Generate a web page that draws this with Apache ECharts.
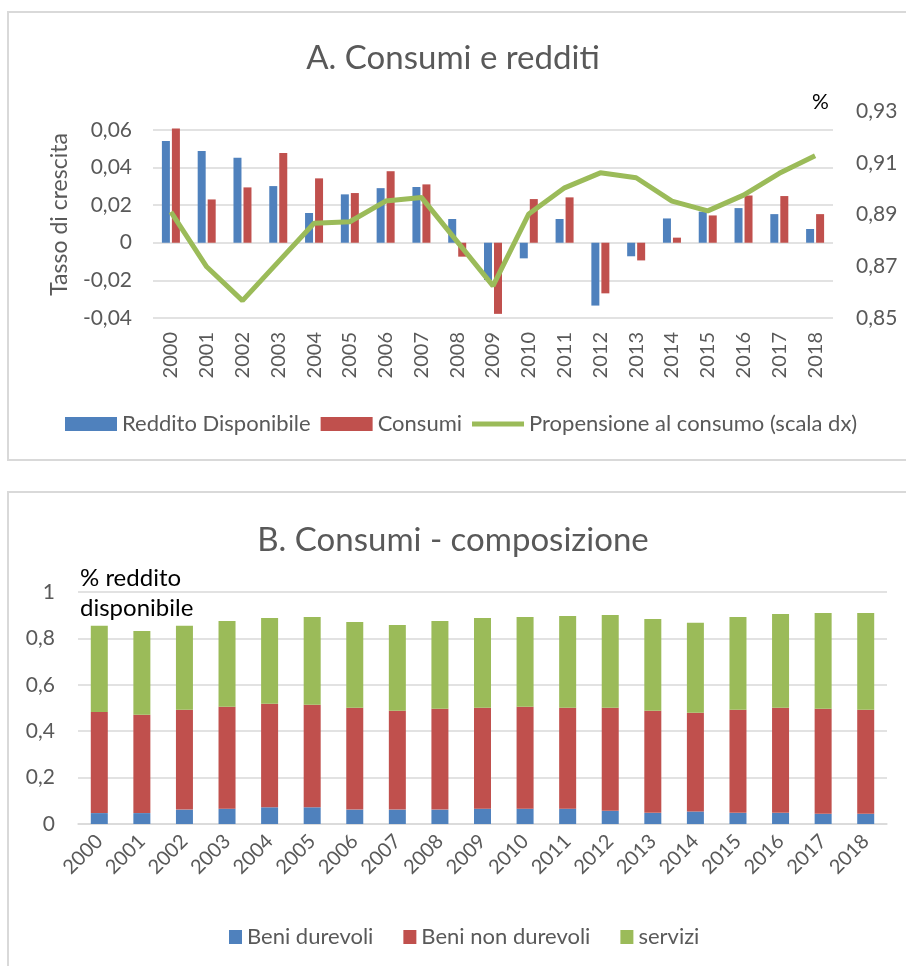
<!DOCTYPE html>
<html>
<head>
    <meta charset="utf-8">
    <title>Consumi e redditi</title>
    <script src="https://cdn.jsdelivr.net/npm/echarts@6/dist/echarts.min.js"></script>
    <style>
        html, body { margin: 0; padding: 0; background: #fff; }
    </style>
</head>
<body>

    <div id="main" style="width: 906px;height:966px;"></div>

    <script type="text/javascript">

        // dati
        var anni = ['2000', '2001', '2002', '2003', '2004', '2005', '2006', '2007', '2008', '2009',
                    '2010', '2011', '2012', '2013', '2014', '2015', '2016', '2017', '2018'];

        // A. Consumi e redditi
        var redditoDisponibile = [0.054, 0.0488, 0.0451, 0.0301, 0.0158, 0.0257, 0.029, 0.0296, 0.0126, -0.0198,
                                  -0.0083, 0.0126, -0.0334, -0.0072, 0.0129, 0.0165, 0.0184, 0.0152, 0.0073];
        var consumi = [0.0607, 0.023, 0.0294, 0.0477, 0.0342, 0.0264, 0.038, 0.031, -0.0074, -0.0378,
                       0.0232, 0.0241, -0.0269, -0.0094, 0.0027, 0.0145, 0.0251, 0.0248, 0.0152];
        var propensione = [0.891, 0.8698, 0.8567, 0.8717, 0.8866, 0.8872, 0.8952, 0.8966, 0.8795, 0.8624,
                           0.8902, 0.9003, 0.9061, 0.9042, 0.8952, 0.8914, 0.8975, 0.9059, 0.9127];

        // B. Consumi - composizione
        var beniDurevoli = [0.047, 0.047, 0.062, 0.066, 0.072, 0.072, 0.062, 0.062, 0.062, 0.066,
                            0.066, 0.066, 0.057, 0.048, 0.054, 0.048, 0.048, 0.044, 0.044];
        var beniNonDurevoli = [0.436, 0.424, 0.430, 0.439, 0.446, 0.442, 0.439, 0.426, 0.435, 0.435,
                               0.439, 0.435, 0.444, 0.440, 0.425, 0.444, 0.453, 0.453, 0.448];
        var servizi = [0.371, 0.361, 0.362, 0.370, 0.370, 0.378, 0.370, 0.370, 0.378, 0.387,
                       0.387, 0.396, 0.400, 0.396, 0.388, 0.400, 0.404, 0.413, 0.418];

        var BLU = '#4f81bd', ROSSO = '#c0504d', VERDE = '#9bbb59';
        var GRIGIO = '#595959', GRIGLIA = '#d9d9d9';
        var FONT = 'Lato';

        var virgola = function (v, dec) {
            var p = Math.pow(10, dec);
            return String(Math.round(v * p) / p).replace('.', ',');
        };

        var myChart = echarts.init(document.getElementById('main'));

        var option = {
            animation: false,
            textStyle: { fontFamily: FONT },
            title: [
                {
                    text: 'A. Consumi e redditi',
                    left: 'center',
                    top: 37,
                    textStyle: { fontFamily: FONT, fontSize: 33, fontWeight: 'normal', color: GRIGIO }
                },
                {
                    text: 'B. Consumi - composizione',
                    left: 'center',
                    top: 519,
                    textStyle: { fontFamily: FONT, fontSize: 33, fontWeight: 'normal', color: GRIGIO }
                }
            ],
            legend: [
                {
                    left: 65,
                    top: 413,
                    padding: 0,
                    itemWidth: 52,
                    itemHeight: 14,
                    itemGap: 10,
                    textStyle: { fontFamily: FONT, fontSize: 22, color: GRIGIO },
                    data: [
                        { name: 'Reddito Disponibile', icon: 'rect' },
                        { name: 'Consumi', icon: 'rect' },
                        { name: 'Propensione al consumo (scala dx)', icon: 'path://M0 0H52V5H0Z' }
                    ]
                },
                {
                    left: 229,
                    top: 926,
                    padding: 0,
                    itemWidth: 13,
                    itemHeight: 14,
                    itemGap: 30,
                    textStyle: { fontFamily: FONT, fontSize: 22, color: GRIGIO },
                    data: [
                        { name: 'Beni durevoli', icon: 'rect' },
                        { name: 'Beni non durevoli', icon: 'rect' },
                        { name: 'servizi', icon: 'rect' }
                    ]
                }
            ],
            grid: [
                { left: 153, top: 111, width: 680, height: 207 },
                { left: 78, top: 592, width: 809, height: 232 }
            ],
            xAxis: [
                {
                    type: 'category',
                    gridIndex: 0,
                    data: anni,
                    axisLine: { show: false, onZero: false },
                    axisTick: { show: false },
                    axisLabel: { rotate: 90, margin: 14, fontSize: 20, color: GRIGIO, interval: 0 }
                },
                {
                    type: 'category',
                    gridIndex: 1,
                    data: anni,
                    axisLine: { show: true, lineStyle: { color: GRIGLIA, width: 1.5 } },
                    axisTick: { show: false },
                    axisLabel: { rotate: 45, margin: 14, fontSize: 20, color: GRIGIO, interval: 0 }
                }
            ],
            yAxis: [
                {
                    type: 'value',
                    gridIndex: 0,
                    min: -0.04,
                    max: 0.07,
                    interval: 0.02,
                    name: 'Tasso di crescita',
                    nameLocation: 'middle',
                    nameGap: 82,
                    nameTextStyle: { fontFamily: FONT, fontSize: 23, color: GRIGIO },
                    axisLine: { show: false },
                    axisTick: { show: false },
                    axisLabel: {
                        margin: 21,
                        fontSize: 21,
                        color: GRIGIO,
                        formatter: function (v) {
                            if (v > 0.065) return '';
                            return virgola(v, 2);
                        }
                    },
                    splitLine: { show: true, showMaxLine: false, lineStyle: { color: GRIGLIA, width: 1.5 } }
                },
                {
                    type: 'value',
                    gridIndex: 0,
                    position: 'right',
                    min: 0.85,
                    max: 0.93,
                    interval: 0.02,
                    axisLine: { show: false },
                    axisTick: { show: false },
                    splitLine: { show: false },
                    axisLabel: {
                        margin: 23,
                        fontSize: 21,
                        color: GRIGIO,
                        formatter: function (v) { return v.toFixed(2).replace('.', ','); }
                    }
                },
                {
                    type: 'value',
                    gridIndex: 1,
                    min: 0,
                    max: 1,
                    interval: 0.2,
                    axisLine: { show: false },
                    axisTick: { show: false },
                    axisLabel: {
                        margin: 23,
                        fontSize: 21,
                        color: GRIGIO,
                        formatter: function (v) { return virgola(v, 1); }
                    },
                    splitLine: { show: true, lineStyle: { color: GRIGLIA, width: 1.5 } }
                }
            ],
            graphic: [
                {
                    type: 'rect',
                    shape: { x: 8, y: 12, width: 930, height: 448 },
                    style: { fill: 'none', stroke: GRIGLIA, lineWidth: 2 },
                    silent: true
                },
                {
                    type: 'rect',
                    shape: { x: 8, y: 492, width: 930, height: 500 },
                    style: { fill: 'none', stroke: GRIGLIA, lineWidth: 2 },
                    silent: true
                },
                {
                    type: 'text',
                    left: 812,
                    top: 92,
                    style: { text: '%', fontFamily: FONT, fontSize: 21, fill: '#000' },
                    silent: true
                },
                {
                    type: 'text',
                    left: 80,
                    top: 566,
                    style: { text: '% reddito', fontFamily: FONT, fontSize: 24, fill: '#000' },
                    silent: true
                },
                {
                    type: 'text',
                    left: 80,
                    top: 596,
                    style: { text: 'disponibile', fontFamily: FONT, fontSize: 24, fill: '#000' },
                    silent: true
                }
            ],
            series: [
                {
                    name: 'Reddito Disponibile',
                    type: 'bar',
                    xAxisIndex: 0,
                    yAxisIndex: 0,
                    data: redditoDisponibile,
                    barWidth: 8,
                    barGap: '25%',
                    itemStyle: { color: BLU }
                },
                {
                    name: 'Consumi',
                    type: 'bar',
                    xAxisIndex: 0,
                    yAxisIndex: 0,
                    data: consumi,
                    barWidth: 8,
                    barGap: '25%',
                    itemStyle: { color: ROSSO }
                },
                {
                    name: 'Propensione al consumo (scala dx)',
                    type: 'line',
                    xAxisIndex: 0,
                    yAxisIndex: 1,
                    data: propensione,
                    showSymbol: false,
                    symbol: 'none',
                    z: 5,
                    itemStyle: { color: VERDE },
                    lineStyle: { color: VERDE, width: 5 }
                },
                {
                    name: 'Beni durevoli',
                    type: 'bar',
                    stack: 'comp',
                    xAxisIndex: 1,
                    yAxisIndex: 2,
                    data: beniDurevoli,
                    barWidth: 17,
                    itemStyle: { color: BLU }
                },
                {
                    name: 'Beni non durevoli',
                    type: 'bar',
                    stack: 'comp',
                    xAxisIndex: 1,
                    yAxisIndex: 2,
                    data: beniNonDurevoli,
                    barWidth: 17,
                    itemStyle: { color: ROSSO }
                },
                {
                    name: 'servizi',
                    type: 'bar',
                    stack: 'comp',
                    xAxisIndex: 1,
                    yAxisIndex: 2,
                    data: servizi,
                    barWidth: 17,
                    itemStyle: { color: VERDE }
                }
            ]
        };

        myChart.setOption(option);
    </script>
</body>
</html>
